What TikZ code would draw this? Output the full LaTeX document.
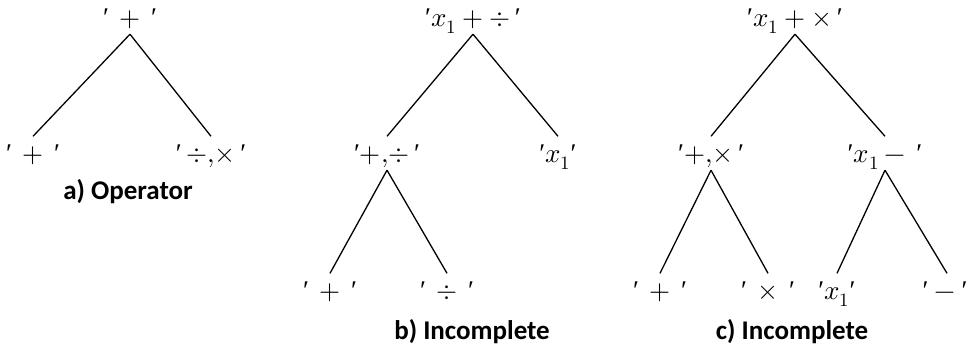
\documentclass[tikz,border=0pt]{standalone}
\usepackage{fontspec}
\usepackage{unicode-math}
\setmathfont{Latin Modern Math}
\newfontfamily\capfont{Carlito}
\newfontfamily\primefont{Liberation Serif}
\newcommand{\pr}{\mbox{\primefont ′}}
\begin{document}
\begin{tikzpicture}[x=1pt,y=-1pt,
  lbl/.style={inner sep=0pt, anchor=base, text height=26.5pt, text depth=7pt, font=\fontsize{27}{32}\selectfont},
  captext/.style={inner sep=0pt, font=\capfont\bfseries\fontsize{27}{32}\selectfont},
  conn/.style={line width=1.3pt}]
\useasboundingbox (0,0) rectangle (968,352);
% a) Operator
\node[lbl] (a0) at (130,27) {$\pr\,+\,\pr$};
\node[lbl] (a1) at (33,163) {$\pr\,+\,\pr$};
\node[lbl] (a2) at (211,163) {$\pr\,{\div}{,}{\times}\,\pr$};
\draw[conn] (a0.south) -- (a1.north);
\draw[conn] (a0.south) -- (a2.north);
\node[captext] (ca) at (128,192) {a) Operator};
% b) Incomplete
\node[lbl] (b0) at (473,27) {$\pr x_1+\div\,\pr$};
\node[lbl] (b1) at (387,163) {$\pr{+}{,}{\div}\,\pr$};
\node[lbl] (b2) at (558,163) {$\pr x_1\pr$};
\node[lbl] (b3) at (330,300) {$\pr\,+\,\pr$};
\node[lbl] (b4) at (447,300) {$\pr\,\div\,\pr$};
\draw[conn] (b0.south) -- (b1.north);
\draw[conn] (b0.south) -- (b2.north);
\draw[conn] (b1.south) -- (b3.north);
\draw[conn] (b1.south) -- (b4.north);
\node[captext] (cb) at (472,332) {b) Incomplete};
% c) Incomplete
\node[lbl] (c0) at (795,27) {$\pr x_1+\times\,\pr$};
\node[lbl] (c1) at (711,163) {$\pr{+}{,}{\times}\,\pr$};
\node[lbl] (c2) at (885,163) {$\pr x_1-\,\pr$};
\node[lbl] (c3) at (660,300) {$\pr\,+\,\pr$};
\node[lbl] (c4) at (768,300) {$\pr\,\times\,\pr$};
\node[lbl] (c5) at (837,300) {$\pr x_1\pr$};
\node[lbl] (c6) at (945,300) {$\pr-\pr$};
\draw[conn] (c0.south) -- (c1.north);
\draw[conn] (c0.south) -- (c2.north);
\draw[conn] (c1.south) -- (c3.north);
\draw[conn] (c1.south) -- (c4.north);
\draw[conn] (c2.south) -- (c5.north);
\draw[conn] (c2.south) -- ([xshift=2pt]c6.north);
\node[captext] (cc) at (792,332) {c) Incomplete};
\end{tikzpicture}
\end{document}
